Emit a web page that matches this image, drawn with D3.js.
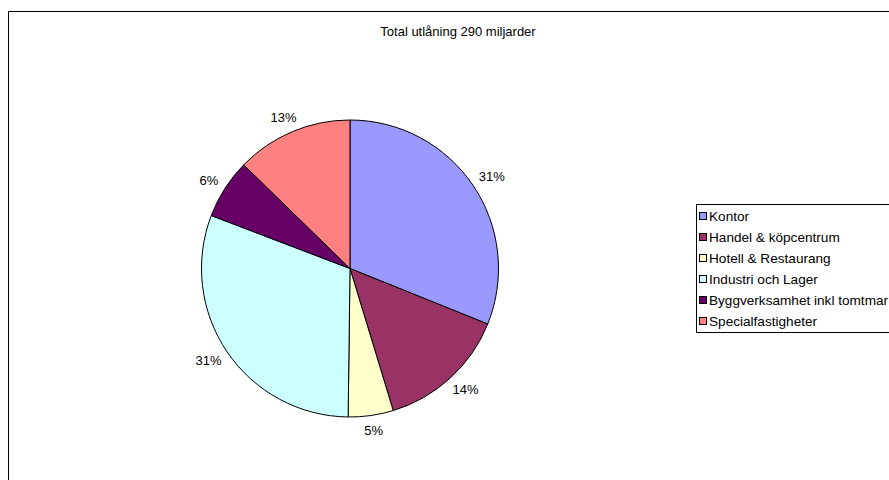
<!DOCTYPE html>
<html><head><meta charset="utf-8">
<script src="https://cdn.jsdelivr.net/npm/d3@7"></script>
<style>body{margin:0;background:#fff}svg{display:block}text{font-family:"Liberation Sans",Arial,sans-serif;fill:#000}</style>
</head><body>
<script>
const categories = ["Kontor","Handel & köpcentrum","Hotell & Restaurang","Industri och Lager","Byggverksamhet inkl tomtmar","Specialfastigheter"];
const values = [31.1, 14.2, 4.9, 30.6, 6.5, 12.7];
const labels = ["31%","14%","5%","31%","6%","13%"];
const colors = ["#9999FF","#993366","#FFFFCC","#CCFFFF","#660066","#FF8080"];
const title = "Total utlåning 290 miljarder";

const W=889,H=480;
const svg=d3.select("body").append("svg").attr("width",W).attr("height",H);
svg.append("path").attr("d","M8.5,480 V11.5 H889").attr("fill","none").attr("stroke","#000").attr("stroke-width",1);

svg.append("text").attr("x",458).attr("y",35.5).attr("text-anchor","middle").attr("font-size",13).text(title);

const cx=350,cy=268.5,r=148.5;
const pie=d3.pie().sort(null).value(d=>d);
const arcs=pie(values);
const arc=d3.arc().innerRadius(0).outerRadius(r);
const g=svg.append("g").attr("transform",`translate(${cx},${cy})`);
g.selectAll("path").data(arcs).join("path").attr("d",arc)
 .attr("fill",(d,i)=>colors[i]).attr("stroke","#000").attr("stroke-width",1);
const R0=158, fs=13;
g.selectAll("text").data(arcs).join("text")
 .attr("font-size",fs).attr("text-anchor","middle").attr("dy","0.35em")
 .text((d,i)=>labels[i])
 .each(function(d){
   const a=(d.startAngle+d.endAngle)/2;
   const w=this.getComputedTextLength();
   d3.select(this).attr("x",Math.sin(a)*(R0+w/2)).attr("y",-Math.cos(a)*(R0+6));
 });

svg.append("path").attr("d","M889,204.5 H696.5 V332.5 H889").attr("fill","#fff").attr("stroke","#000").attr("stroke-width",1);
const y=d3.scalePoint().domain(categories).range([216,321]);
const lg=svg.append("g");
lg.selectAll("rect").data(categories).join("rect")
 .attr("x",699.5).attr("y",d=>y(d)-3.5).attr("width",7).attr("height",7)
 .attr("fill",(d,i)=>colors[i]).attr("stroke","#000").attr("stroke-width",1);
lg.selectAll("text").data(categories).join("text")
 .attr("x",709).attr("y",d=>y(d)).attr("dy","0.35em").attr("font-size",13.6).text(d=>d);
</script>
</body></html>
